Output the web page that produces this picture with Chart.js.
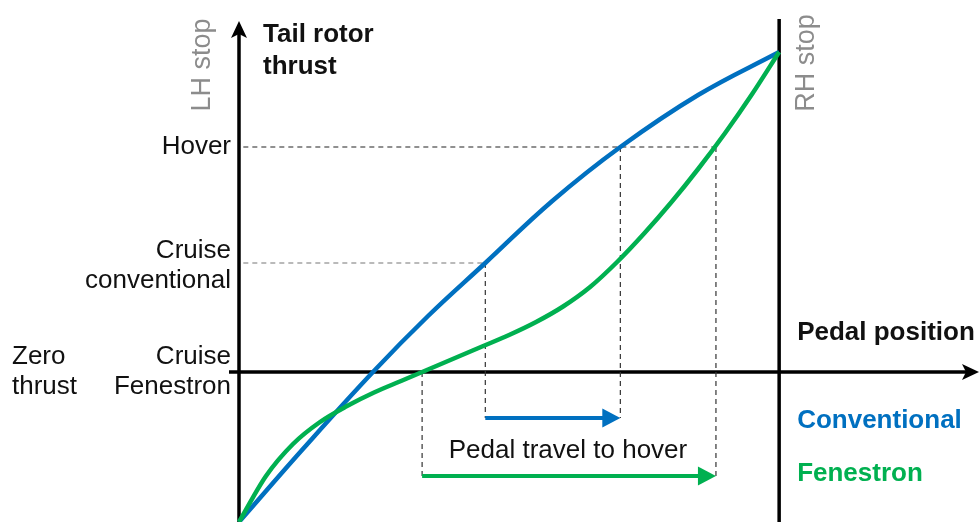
<!DOCTYPE html>
<html>
<head>
<meta charset="utf-8">
<script src="https://cdn.jsdelivr.net/npm/chart.js@4"></script>
<style>
  html, body { margin: 0; padding: 0; background: #fff; }
  #wrap { width: 979px; height: 522px; }
</style>
</head>
<body>
<div id="wrap"><canvas id="thrustChart" width="979" height="522"></canvas></div>
<script>
// pedal position (0 = LH stop, 100 = RH stop) against tail rotor thrust
const pedalConv = [0, 12, 24.8, 35, 45.6, 58, 70.6, 85, 100];
const thrustConv = [-15, -7.6, 0, 5.6, 10.9, 17.1, 22.5, 27.7, 32];
const pedalFen = [0, 5, 10, 15, 20, 25, 30, 35, 40, 45, 50, 55, 60, 65, 70, 75, 80, 85, 90, 95, 100];
const thrustFen = [-15, -10.4, -7.2, -5.0, -3.4, -2.05, -0.9, 0.25, 1.4, 2.55, 3.7, 5.0, 6.55, 8.5, 11.0, 13.85, 16.95, 20.3, 23.9, 27.8, 32];

// thrust levels marked on the vertical axis
const levelNames = [['Hover'], ['Cruise', 'conventional'], ['Cruise', 'Fenestron']];
const levelThrust = [22.5, 10.9, 0];

// pedal travel from cruise to hover: [start, end, thrust row of the arrow]
const travelConv = [45.6, 70.6, -4.6];
const travelFen = [33.9, 88.3, -10.4];

const BLUE = '#0070c0';
const GREEN = '#00b050';
const FONT = '"Liberation Sans", Arial, sans-serif';

function pts(xs, ys) {
    return xs.map((x, i) => ({ x: x, y: ys[i] }));
}

function guide(points, color) {
    return {
        data: points,
        showLine: true,
        borderColor: color,
        borderWidth: 1.2,
        borderDash: [5, 4],
        pointRadius: 0,
        order: 5
    };
}

const guides = [
    guide([{ x: 0.8, y: levelThrust[0] }, { x: travelFen[1], y: levelThrust[0] }], '#222'),
    guide([{ x: 0.8, y: levelThrust[1] }, { x: travelConv[0], y: levelThrust[1] }], '#777'),
    guide([{ x: travelConv[0], y: levelThrust[1] }, { x: travelConv[0], y: travelConv[2] }], '#333'),
    guide([{ x: travelConv[1], y: levelThrust[0] }, { x: travelConv[1], y: travelConv[2] }], '#333'),
    guide([{ x: travelFen[0], y: levelThrust[2] }, { x: travelFen[0], y: travelFen[2] }], '#333'),
    guide([{ x: travelFen[1], y: levelThrust[0] }, { x: travelFen[1], y: travelFen[2] }], '#333')
];

const diagram = {
    id: 'diagram',
    beforeDatasetsDraw(chart) {
        const ctx = chart.ctx;
        const xs = chart.scales.x, ys = chart.scales.y;
        const x0 = xs.getPixelForValue(0), xStop = xs.getPixelForValue(100);
        const y0 = ys.getPixelForValue(0);
        ctx.save();
        ctx.strokeStyle = '#000';
        ctx.fillStyle = '#000';
        ctx.lineWidth = 3.5;
        // vertical axis with arrow
        ctx.beginPath();
        ctx.moveTo(x0, chart.height);
        ctx.lineTo(x0, 34);
        ctx.stroke();
        ctx.beginPath();
        ctx.moveTo(x0, 21);
        ctx.lineTo(x0 - 8, 38);
        ctx.lineTo(x0, 34);
        ctx.lineTo(x0 + 8, 38);
        ctx.closePath();
        ctx.fill();
        // horizontal axis with arrow
        ctx.beginPath();
        ctx.moveTo(x0 - 10, y0);
        ctx.lineTo(chart.width - 10, y0);
        ctx.stroke();
        ctx.beginPath();
        ctx.moveTo(chart.width, y0);
        ctx.lineTo(chart.width - 17, y0 - 8);
        ctx.lineTo(chart.width - 13, y0);
        ctx.lineTo(chart.width - 17, y0 + 8);
        ctx.closePath();
        ctx.fill();
        // RH stop
        ctx.beginPath();
        ctx.moveTo(xStop, 19);
        ctx.lineTo(xStop, chart.height);
        ctx.stroke();
        ctx.restore();
    },
    afterDatasetsDraw(chart) {
        const ctx = chart.ctx;
        const xs = chart.scales.x, ys = chart.scales.y;
        function arrow(travel, color) {
            const xa = xs.getPixelForValue(travel[0]);
            const xb = xs.getPixelForValue(travel[1]);
            const y = ys.getPixelForValue(travel[2]);
            ctx.save();
            ctx.strokeStyle = color;
            ctx.fillStyle = color;
            ctx.lineWidth = 4;
            ctx.beginPath();
            ctx.moveTo(xa, y);
            ctx.lineTo(xb - 14, y);
            ctx.stroke();
            ctx.beginPath();
            ctx.moveTo(xb, y);
            ctx.lineTo(xb - 18, y - 9.5);
            ctx.lineTo(xb - 18, y + 9.5);
            ctx.closePath();
            ctx.fill();
            ctx.restore();
        }
        arrow(travelConv, BLUE);
        arrow(travelFen, GREEN);
    },
    afterDraw(chart) {
        const ctx = chart.ctx;
        const xs = chart.scales.x, ys = chart.scales.y;
        const x0 = xs.getPixelForValue(0), xStop = xs.getPixelForValue(100);
        const y0 = ys.getPixelForValue(0);
        ctx.save();
        ctx.textBaseline = 'middle';

        // thrust level labels, right aligned against the axis
        ctx.font = '26px ' + FONT;
        ctx.fillStyle = '#111';
        ctx.textAlign = 'right';
        levelNames.forEach((lines, i) => {
            const y = ys.getPixelForValue(levelThrust[i]);
            if (lines.length === 1) {
                ctx.fillText(lines[0], x0 - 8, y);
            } else if (i === 1) {
                ctx.fillText(lines[0], x0 - 8, y - 12);
                ctx.fillText(lines[1], x0 - 8, y + 18);
            } else {
                ctx.fillText(lines[0], x0 - 8, y - 15);
                ctx.fillText(lines[1], x0 - 8, y + 15);
            }
        });
        ctx.textAlign = 'left';
        ctx.fillText('Zero', 12, y0 - 15);
        ctx.fillText('thrust', 12, y0 + 15);

        // travel caption
        ctx.textAlign = 'center';
        ctx.fillText('Pedal travel to hover', 568, 451);

        // axis titles
        ctx.textAlign = 'left';
        ctx.font = 'bold 26px ' + FONT;
        ctx.fillText('Tail rotor', x0 + 24, 35);
        ctx.fillText('thrust', x0 + 24, 67);
        ctx.fillText('Pedal position', xStop + 18, 333);
        ctx.fillStyle = BLUE;
        ctx.fillText('Conventional', xStop + 18, 421);
        ctx.fillStyle = GREEN;
        ctx.fillText('Fenestron', xStop + 18, 474);

        // stops, rotated
        ctx.font = '27px ' + FONT;
        ctx.fillStyle = '#8c8c8c';
        ctx.textAlign = 'center';
        [['LH stop', x0 - 36, 65], ['RH stop', xStop + 27, 63]].forEach(([t, x, y]) => {
            ctx.save();
            ctx.translate(x, y);
            ctx.rotate(-Math.PI / 2);
            ctx.fillText(t, 0, 0);
            ctx.restore();
        });
        ctx.restore();
    }
};

new Chart(document.getElementById('thrustChart').getContext('2d'), {
    type: 'scatter',
    data: {
        datasets: [
            {
                label: 'Conventional',
                data: pts(pedalConv, thrustConv),
                showLine: true,
                borderColor: BLUE,
                borderWidth: 4.5,
                pointRadius: 0,
                tension: 0.4,
                clip: false,
                order: 2
            },
            {
                label: 'Fenestron',
                data: pts(pedalFen, thrustFen),
                showLine: true,
                borderColor: GREEN,
                borderWidth: 4.5,
                pointRadius: 0,
                cubicInterpolationMode: 'monotone',
                clip: false,
                order: 1
            },
            ...guides
        ]
    },
    options: {
        responsive: false,
        animation: false,
        events: [],
        layout: { padding: { left: 239, top: 25, right: 0, bottom: 0 } },
        scales: {
            x: { type: 'linear', min: 0, max: 137, display: false },
            y: { type: 'linear', min: -15, max: 34.7, display: false }
        },
        plugins: {
            legend: { display: false },
            tooltip: { enabled: false }
        }
    },
    plugins: [diagram]
});
</script>
</body>
</html>
